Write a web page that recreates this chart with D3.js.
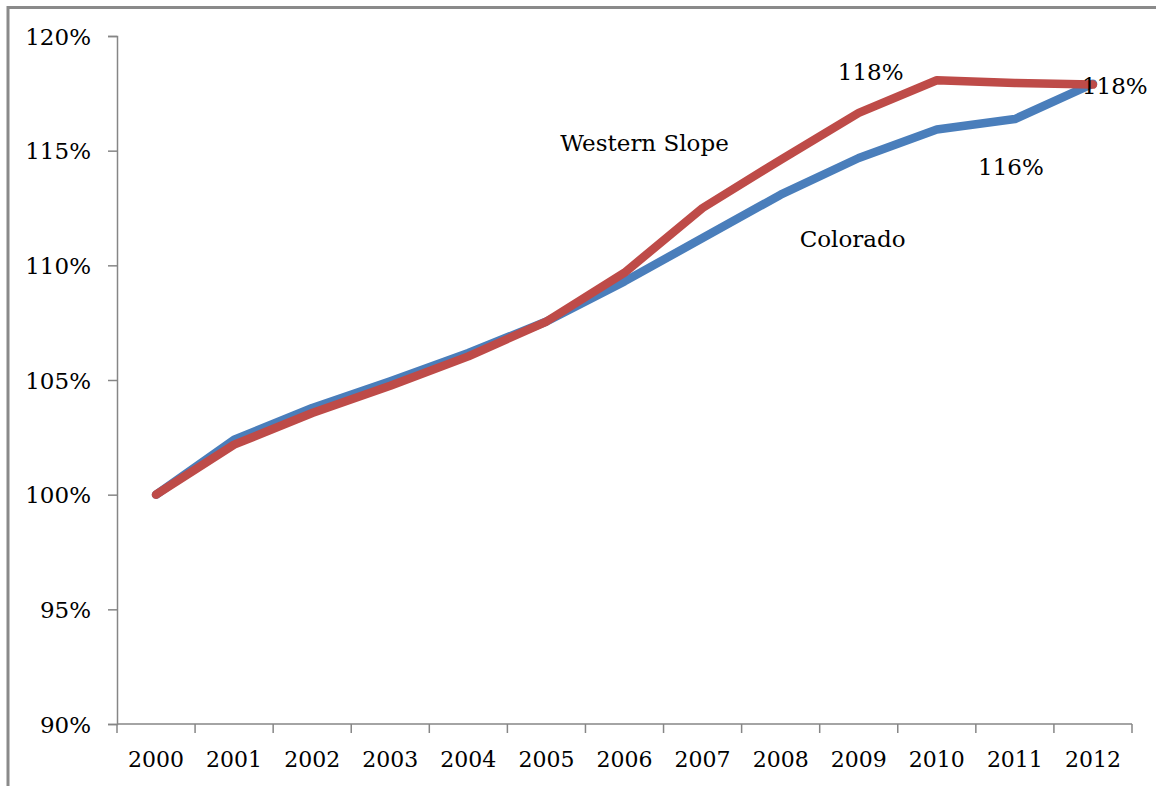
<!DOCTYPE html>
<html>
<head>
<meta charset="utf-8">
<script src="https://cdn.jsdelivr.net/npm/d3@7"></script>
<style>
  html, body { margin: 0; padding: 0; background: #fff; }
  svg { display: block; }
  text { font-family: "DejaVu Serif", "Liberation Serif", serif; fill: #000; }
</style>
</head>
<body>
<svg id="chart" width="1156" height="786"></svg>
<script>
// Population growth indexed to 2000 = 100%
const years = ["2000","2001","2002","2003","2004","2005","2006","2007","2008","2009","2010","2011","2012"];
const colorado = [100, 102.4, 103.78, 104.94, 106.18, 107.55, 109.3, 111.19, 113.08, 114.68, 115.92, 116.38, 117.92];
const westernSlope = [100, 102.18, 103.56, 104.75, 106.03, 107.55, 109.68, 112.5, 114.6, 116.65, 118.07, 117.95, 117.88];
const yTicks = [90, 95, 100, 105, 110, 115, 120];

// Text annotations: [label, year, value, anchor, dx, dy]
const annotations = [
  ["Western Slope", "2007", 115.0, "middle", -58, 0],
  ["Colorado", "2008", 110.8, "middle", 72, 0],
  ["118%", "2009", 118.1, "middle", 12, 0],
  ["116%", "2011", 113.95, "middle", -4, 0],
  ["118%", "2012", 117.45, "start", -11, 0]
];

const AXIS_FONT = "22px";
const LABEL_FONT = "23px";

const svg = d3.select("#chart");
const margin = { left: 117, right: 24, top: 36, bottom: 62 };
const W = 1156, H = 786;

// outer chart frame
svg.append("path")
  .attr("d", `M8,${H} L8,7.5 L${W},7.5`)
  .attr("fill", "none")
  .attr("stroke", "#8a8a8a")
  .attr("stroke-width", 3);

const x = d3.scaleBand().domain(years).range([margin.left, W - margin.right]);
const y = d3.scaleLinear().domain([90, 120]).range([H - margin.bottom, margin.top]);

// y axis
const yAxis = svg.append("g")
  .attr("transform", `translate(${margin.left},0)`)
  .call(d3.axisLeft(y).tickValues(yTicks).tickSize(9).tickPadding(17)
    .tickFormat(d => d + "%"));
yAxis.select(".domain").attr("stroke", "#868686").attr("stroke-width", 1.5);
yAxis.selectAll(".tick line").attr("stroke", "#868686").attr("stroke-width", 1.5);
yAxis.selectAll(".tick text")
  .style("font-family", "DejaVu Serif, serif")
  .style("font-size", LABEL_FONT)
  .attr("fill", "#000")
  .attr("dy", "0.35em");

// x axis with ticks on category boundaries
const xAxisY = y(90);
const xg = svg.append("g");
xg.append("line")
  .attr("x1", margin.left).attr("x2", W - margin.right)
  .attr("y1", xAxisY).attr("y2", xAxisY)
  .attr("stroke", "#868686").attr("stroke-width", 1.5);
const boundaries = years.map(d => x(d)).concat([x(years[years.length - 1]) + x.bandwidth()]);
xg.selectAll("line.tick").data(boundaries).enter().append("line")
  .attr("class", "tick")
  .attr("x1", d => d).attr("x2", d => d)
  .attr("y1", xAxisY).attr("y2", xAxisY + 9)
  .attr("stroke", "#868686").attr("stroke-width", 1.5);
xg.selectAll("text").data(years).enter().append("text")
  .attr("x", d => x(d) + x.bandwidth() / 2)
  .attr("y", 767)
  .attr("text-anchor", "middle")
  .style("font-size", AXIS_FONT)
  .text(d => d);

// series lines
const line = d3.line()
  .x((d, i) => x(years[i]) + x.bandwidth() / 2)
  .y(d => y(d));

svg.append("path").datum(colorado)
  .attr("d", line)
  .attr("fill", "none")
  .attr("stroke", "#4a7ebb")
  .attr("stroke-width", 8.5)
  .attr("stroke-linejoin", "round")
  .attr("stroke-linecap", "round");

svg.append("path").datum(westernSlope)
  .attr("d", line)
  .attr("fill", "none")
  .attr("stroke", "#be4b48")
  .attr("stroke-width", 8.5)
  .attr("stroke-linejoin", "round")
  .attr("stroke-linecap", "round");

// annotations
svg.selectAll("text.note").data(annotations).enter().append("text")
  .attr("class", "note")
  .attr("x", d => x(d[1]) + x.bandwidth() / 2 + d[4])
  .attr("y", d => y(d[2]) + d[5])
  .attr("text-anchor", d => d[3])
  .style("font-size", LABEL_FONT)
  .text(d => d[0]);
</script>
</body>
</html>
